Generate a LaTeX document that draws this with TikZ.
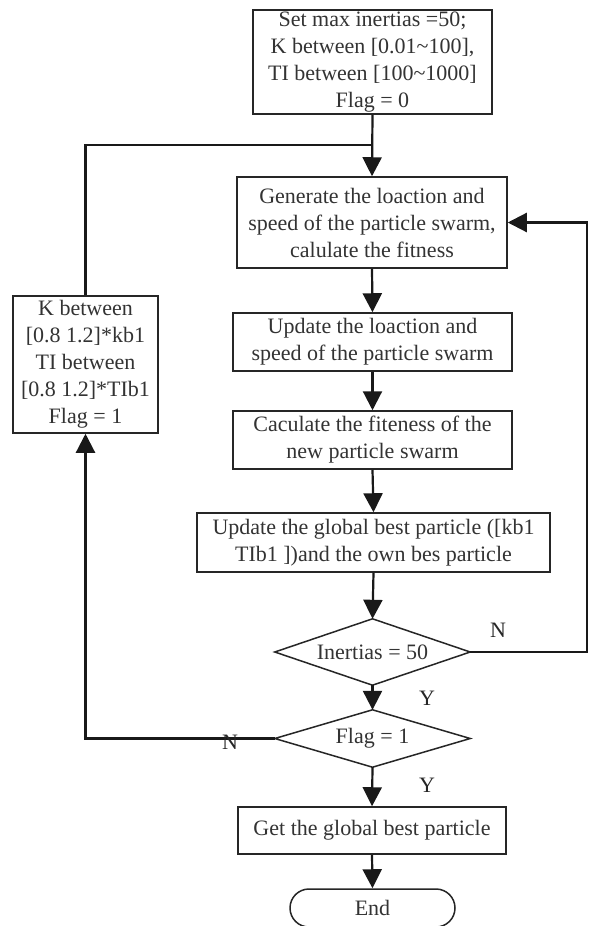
\documentclass[tikz,border=0pt]{standalone}
\usepackage{fontspec}
\setmainfont{Liberation Serif}
\usetikzlibrary{arrows.meta}
\begin{document}
\begin{tikzpicture}[x=1pt,y=1pt,
  box/.style={draw=black!85,line width=1.5pt,align=center,inner sep=0pt,text=black!80,font=\fontsize{22}{27}\selectfont},
  dia/.style={inner sep=0pt,text=black!80,font=\fontsize{22}{27}\selectfont},
  diaedge/.style={draw=black!85,line width=1.5pt,line join=miter},
  lbl/.style={text=black!85,font=\fontsize{22}{26}\selectfont},
  conn/.style={line width=2.2pt,draw=black!90},
  arr/.style={conn,-{Triangle[length=19pt,width=19pt]}}]
\useasboundingbox (0,0) rectangle (590,-926);
\fill[white] (0,0) rectangle (590,-926);
\node[box,minimum width=239pt,minimum height=104pt] (init) at (372.5,-62) {Set max inertias =50;\\K between [0.01\textasciitilde100],\\TI between [100\textasciitilde1000]\\Flag = 0};
\node[box,minimum width=270pt,minimum height=91pt] (gen) at (372,-222.5) {Generate the loaction and\\speed of the particle swarm,\\calulate the fitness};
\node[box,minimum width=279pt,minimum height=58pt] (upd) at (372.5,-342) {Update the loaction and\\speed of the particle swarm};
\node[box,minimum width=279pt,minimum height=58pt] (calc) at (372.5,-440) {Caculate the fiteness of the\\new particle swarm};
\node[box,minimum width=353pt,minimum height=59pt] (glob) at (373.5,-542.5) {Update the global best particle ([kb1\\TIb1 ])and the own bes particle};
\node[dia,minimum width=195pt,minimum height=66pt] (d1) at (372.5,-652) {Inertias = 50};
\draw[diaedge] (d1.north) -- (d1.east) -- (d1.south) -- (d1.west) -- cycle;
\node[dia,minimum width=195pt,minimum height=57pt] (d2) at (372.5,-738.5) {Flag = 1};
\draw[diaedge] (d2.north) -- (d2.east) -- (d2.south) -- (d2.west) -- cycle;
\node[box,minimum width=268pt,minimum height=47pt] (get) at (372,-830.5) {Get the global best particle};
\node[box,minimum width=165pt,minimum height=38pt,rounded corners=19pt] (end) at (372.5,-908) {End};
\node[box,minimum width=145pt,minimum height=137pt] (left) at (85.5,-364.5) {K between\\{}[0.8 1.2]*kb1\\TI between\\{}[0.8 1.2]*TIb1\\Flag = 1};
\coordinate (join) at (372.5,-145);
\coordinate (rt) at (587,-652);
\draw[arr] (init.south) -- (gen.north);
\draw[conn] (left.north) |- (join);
\draw[arr] (gen.south) -- (upd.north);
\draw[arr] (upd.south) -- (calc.north);
\draw[arr] (calc.south) -- (glob.north);
\draw[arr] (glob.south) -- (d1.north);
\draw[arr] (d1.south) -- (d2.north);
\draw[arr] (d2.south) -- (get.north);
\draw[arr] (get.south) -- (end.north);
\draw[arr] (d1.east) -- (rt) |- (gen.east);
\draw[arr] (d2.west) -| (left.south);
\node[lbl] (n1) at (498,-630) {N};
\node[lbl] (y1) at (427,-698) {Y};
\node[lbl] (n2) at (230,-742) {N};
\node[lbl] (y2) at (427,-785) {Y};
\end{tikzpicture}
\end{document}
